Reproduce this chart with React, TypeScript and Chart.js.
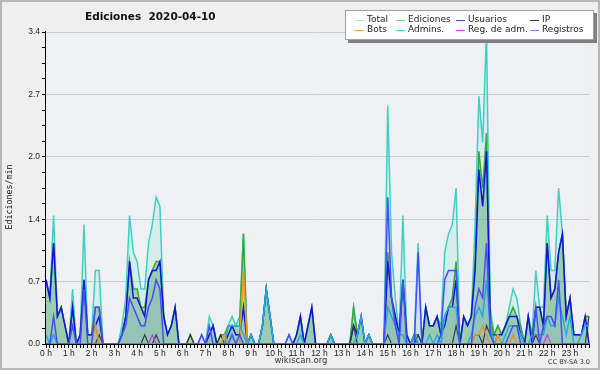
import React, { useEffect, useRef } from "react";
import { Chart, registerables } from "chart.js";

Chart.register(...registerables);

// ---------- labels ----------
const hourLabels = [
  "0 h", "1 h", "2 h", "3 h", "4 h", "5 h", "6 h", "7 h", "8 h", "9 h", "10 h", "11 h",
  "12 h", "13 h", "14 h", "15 h", "16 h", "17 h", "18 h", "19 h", "20 h", "21 h", "22 h", "23 h",
];
const yTickLabels = ["0.0", "0.7", "1.4", "2.0", "2.7", "3.4"];
const yMax = 3.4;
const slotLabels = Array.from(
  { length: 144 },
  (_, i) => `${Math.floor(i / 6)}:${String((i % 6) * 10).padStart(2, "0")}`
);
const seriesNames = ["Total", "Ediciones", "Usuarios", "IP", "Bots", "Admins.", "Reg. de adm.", "Registros"];

// ---------- data (edits / min, 10-minute slots) ----------
const total = [
  0.7, 0.5, 1.4, 0.3, 0.4, 0.2, /* 1h */ 0, 0.6, 0, 0.1, 1.3, 0.1, /* 2h */ 0.1, 0.8, 0.8, 0, 0, 0,
  /* 3h */ 0, 0, 0.2, 0.5, 1.4, 1.0, /* 4h */ 0.9, 0.6, 0.6, 1.1, 1.3, 1.6, /* 5h */ 1.5, 0.3, 0.1, 0.2, 0.4, 0,
  /* 6h */ 0, 0, 0.1, 0, 0, 0.1, /* 7h */ 0, 0.3, 0.2, 0, 0.1, 0.1, /* 8h */ 0.2, 0.3, 0.2, 0.3, 1.2, 0,
  /* 9h */ 0.1, 0, 0, 0.2, 0.6, 0.3, /* 10h */ 0, 0, 0, 0, 0.1, 0, /* 11h */ 0.1, 0.3, 0, 0.2, 0.4, 0,
  /* 12h */ 0, 0, 0, 0.1, 0, 0, /* 13h */ 0, 0, 0, 0.4, 0.1, 0.3, /* 14h */ 0, 0.1, 0, 0, 0, 0,
  /* 15h */ 2.6, 1.0, 0.5, 0.1, 1.4, 0.1, /* 16h */ 0, 0.1, 1.1, 0, 0.4, 0.2, /* 17h */ 0.2, 0.3, 0.2, 1.0, 1.2, 1.3,
  /* 18h */ 1.7, 0, 0.3, 0.2, 0.3, 1.3, /* 19h */ 2.7, 2.2, 3.4, 0.4, 0.1, 0.2, /* 20h */ 0.1, 0.2, 0.4, 0.6, 0.5, 0.2,
  /* 21h */ 0, 0.3, 0.1, 0.8, 0.4, 0.4, /* 22h */ 1.4, 0.8, 0.8, 1.7, 1.2, 0.3, /* 23h */ 0.5, 0.1, 0.1, 0.1, 0.3, 0.3,
];
const edits = [
  0.7, 0.5, 1.1, 0.3, 0.4, 0.2, 0, 0.4, 0, 0.1, 0.7, 0.1, 0.1, 0.4, 0.4, 0, 0, 0,
  0, 0, 0.1, 0.3, 0.9, 0.6, 0.6, 0.4, 0.4, 0.7, 0.8, 0.9, 0.9, 0.3, 0.1, 0.2, 0.4, 0,
  0, 0, 0.1, 0, 0, 0, 0, 0.1, 0.2, 0, 0.1, 0.1, 0.2, 0.2, 0.2, 0.2, 1.2, 0,
  0.1, 0, 0, 0.2, 0.6, 0.3, 0, 0, 0, 0, 0, 0, 0.1, 0.3, 0, 0.2, 0.4, 0,
  0, 0, 0, 0.1, 0, 0, 0, 0, 0, 0.4, 0.1, 0.3, 0, 0.1, 0, 0, 0, 0,
  1.0, 0.5, 0.3, 0.1, 0.7, 0.1, 0, 0.1, 0.1, 0, 0.4, 0.2, 0.2, 0.3, 0.1, 0.3, 0.4, 0.5,
  0.9, 0, 0.3, 0.2, 0.3, 0.9, 2.1, 1.7, 2.3, 0.3, 0.1, 0.2, 0.1, 0.2, 0.3, 0.4, 0.3, 0.2,
  0, 0.3, 0.1, 0.4, 0.4, 0.2, 1.1, 0.5, 0.6, 1.0, 1.2, 0.3, 0.5, 0.1, 0.1, 0.1, 0.3, 0.3,
];
const users = [
  0.7, 0.5, 1.1, 0.3, 0.4, 0.2, 0, 0.4, 0, 0.1, 0.7, 0.1, 0.1, 0.2, 0.3, 0, 0, 0,
  0, 0, 0.1, 0.3, 0.9, 0.5, 0.5, 0.4, 0.3, 0.7, 0.8, 0.8, 0.9, 0.3, 0.1, 0.2, 0.4, 0,
  0, 0, 0, 0, 0, 0, 0, 0.1, 0.2, 0, 0, 0, 0.1, 0.2, 0.1, 0.1, 0.4, 0,
  0.1, 0, 0, 0.2, 0.6, 0.3, 0, 0, 0, 0, 0, 0, 0.1, 0.3, 0, 0.2, 0.4, 0,
  0, 0, 0, 0.1, 0, 0, 0, 0, 0, 0.2, 0.1, 0.3, 0, 0.1, 0, 0, 0, 0,
  0.9, 0.5, 0.3, 0.1, 0.7, 0.1, 0, 0.1, 0, 0, 0.4, 0.2, 0.2, 0.3, 0.1, 0.2, 0.4, 0.4,
  0.7, 0, 0.3, 0.2, 0.3, 0.8, 1.9, 1.5, 2.1, 0.2, 0, 0.1, 0.1, 0.2, 0.3, 0.3, 0.3, 0.1,
  0, 0.3, 0, 0.4, 0.4, 0.2, 1.1, 0.5, 0.6, 1.0, 1.2, 0.3, 0.5, 0.1, 0.1, 0.1, 0.3, 0,
];
const ip = [
  0, 0, 0, 0, 0, 0, 0, 0, 0, 0, 0, 0, 0, 0, 0.1, 0, 0, 0,
  0, 0, 0, 0, 0, 0, 0, 0, 0.1, 0, 0, 0.1, 0, 0, 0, 0, 0, 0,
  0, 0, 0.1, 0, 0, 0, 0, 0, 0, 0, 0.1, 0, 0, 0, 0, 0, 0, 0,
  0, 0, 0, 0, 0, 0, 0, 0, 0, 0, 0, 0, 0, 0, 0, 0, 0, 0,
  0, 0, 0, 0, 0, 0, 0, 0, 0, 0.2, 0, 0, 0, 0, 0, 0, 0, 0,
  0.1, 0, 0, 0, 0, 0, 0, 0, 0.1, 0, 0, 0, 0, 0, 0, 0, 0, 0,
  0.2, 0, 0, 0, 0, 0.1, 0.1, 0, 0.2, 0.1, 0.1, 0.1, 0, 0, 0, 0, 0, 0,
  0, 0, 0, 0.1, 0, 0, 0, 0, 0, 0, 0, 0, 0, 0, 0, 0, 0, 0.3,
];
const bots = [
  0, 0, 0, 0, 0, 0, 0, 0, 0, 0, 0, 0, 0, 0.2, 0, 0, 0, 0,
  0, 0, 0, 0, 0, 0, 0, 0, 0, 0, 0, 0, 0, 0, 0, 0, 0, 0,
  0, 0, 0, 0, 0, 0, 0, 0, 0, 0, 0, 0.1, 0, 0, 0, 0, 0.8, 0,
  0, 0, 0, 0, 0, 0, 0, 0, 0, 0, 0, 0, 0, 0, 0, 0, 0, 0,
  0, 0, 0, 0, 0, 0, 0, 0, 0, 0, 0, 0, 0, 0, 0, 0, 0, 0,
  0, 0, 0, 0, 0, 0, 0, 0, 0, 0, 0, 0, 0, 0, 0, 0, 0, 0,
  0, 0, 0, 0, 0, 0.1, 0.1, 0.2, 0.1, 0, 0, 0.1, 0, 0, 0, 0.1, 0, 0,
  0, 0, 0, 0, 0, 0, 0, 0, 0, 0, 0, 0, 0, 0, 0, 0, 0, 0,
];
const admins = [
  0.1, 0, 0.1, 0, 0, 0, 0, 0, 0, 0, 0, 0, 0, 0, 0, 0, 0, 0,
  0, 0, 0, 0, 0, 0, 0, 0, 0, 0, 0, 0, 0, 0, 0, 0, 0, 0,
  0, 0, 0, 0, 0, 0, 0, 0, 0, 0, 0, 0, 0.2, 0.2, 0.2, 0.2, 0.1, 0,
  0.1, 0, 0, 0.2, 0.6, 0.3, 0, 0, 0, 0, 0, 0, 0, 0.1, 0, 0, 0, 0,
  0, 0, 0, 0.1, 0, 0, 0, 0, 0, 0, 0.1, 0.3, 0, 0.1, 0, 0, 0, 0,
  0.4, 0.3, 0.2, 0.1, 0.1, 0, 0, 0.1, 0, 0, 0, 0.1, 0, 0.1, 0, 0.3, 0.4, 0.4,
  0.4, 0, 0, 0, 0.1, 0.3, 0.4, 0.3, 0.7, 0.2, 0, 0, 0, 0.1, 0.2, 0.2, 0.2, 0.1,
  0, 0, 0.1, 0.1, 0.1, 0.1, 0.3, 0.2, 0.2, 0.5, 0.3, 0.1, 0.3, 0, 0, 0.1, 0.2, 0.2,
];
const regAdm = [
  0, 0, 0, 0, 0, 0, 0, 0, 0, 0, 0, 0, 0, 0, 0, 0, 0, 0,
  0, 0, 0, 0, 0, 0, 0, 0, 0, 0, 0.1, 0, 0, 0, 0, 0, 0, 0,
  0, 0, 0, 0, 0, 0, 0, 0, 0, 0, 0, 0, 0, 0, 0, 0, 0, 0,
  0, 0, 0, 0, 0, 0, 0, 0, 0, 0, 0, 0, 0, 0, 0, 0, 0, 0,
  0, 0, 0, 0, 0, 0, 0, 0, 0, 0, 0, 0, 0, 0, 0, 0, 0, 0,
  0, 0, 0, 0, 0, 0, 0, 0, 0, 0, 0, 0, 0, 0, 0, 0, 0, 0,
  0, 0, 0, 0, 0, 0, 0, 0, 0, 0, 0, 0, 0, 0, 0, 0, 0, 0,
  0, 0, 0, 0, 0, 0, 0.1, 0, 0, 0, 0, 0, 0, 0, 0, 0, 0, 0,
];
const registros = [
  0, 0, 0.3, 0, 0, 0, 0, 0.2, 0, 0, 0.6, 0, 0, 0.4, 0.4, 0, 0, 0,
  0, 0, 0.1, 0.2, 0.5, 0.4, 0.3, 0.2, 0.2, 0.4, 0.5, 0.7, 0.6, 0, 0, 0, 0, 0,
  0, 0, 0, 0, 0, 0.1, 0, 0.2, 0, 0, 0, 0, 0, 0.1, 0, 0.1, 0, 0,
  0, 0, 0, 0, 0, 0, 0, 0, 0, 0, 0.1, 0, 0, 0, 0, 0, 0, 0,
  0, 0, 0, 0, 0, 0, 0, 0, 0, 0, 0, 0, 0, 0, 0, 0, 0, 0,
  1.6, 0.5, 0.2, 0, 0.7, 0, 0, 0, 1.0, 0, 0, 0, 0, 0, 0.1, 0.7, 0.8, 0.8,
  0.8, 0, 0, 0, 0, 0.4, 0.6, 0.5, 1.1, 0.1, 0, 0, 0, 0, 0.1, 0.2, 0.2, 0,
  0, 0, 0, 0.4, 0, 0.2, 0.3, 0.3, 0.2, 0.7, 0, 0, 0, 0, 0, 0, 0, 0,
];

// ---------- styles ----------
const lineColors = ["#3dd0c4", "#38a838", "#1212e0", "#3a3a3a", "#f29a1c", "#22aee0", "#d23cdc", "#4a4aff"];
const fillColors = [
  "rgba(80,220,195,0.15)",
  "rgba(60,170,60,0.34)",
  "rgba(0,0,170,0.04)",
  null,
  null,
  null,
  null,
  "rgba(70,70,255,0.06)",
];
const legendColors = ["#a4e6de", "#80cf80", "#4646e6", "#333333", "#f0a040", "#40cfe6", "#e040e6", "#8080ff"];
const widths = [1.5, 1.5, 1.5, 1.2, 1.5, 1.5, 1.2, 1.5];

const FONT = '"DejaVu Sans", "Liberation Sans", sans-serif';

const decor = {
  id: "decor",
  beforeDraw(chart: any) {
    const { ctx, chartArea: a, width, height } = chart;
    ctx.save();
    ctx.fillStyle = "#efefef";
    ctx.fillRect(0, 0, width, height);
    ctx.fillStyle = "#eef0f3";
    ctx.fillRect(a.left, a.top, a.right - a.left, a.bottom - a.top);
    ctx.restore();
  },
  afterDatasetsDraw(chart: any) {
    const { ctx, chartArea: a } = chart;
    ctx.save();
    ctx.strokeStyle = "#000";
    ctx.lineWidth = 1;
    ctx.beginPath();
    ctx.moveTo(a.left - 0.5, a.top - 1);
    ctx.lineTo(a.left - 0.5, a.bottom + 0.5);
    ctx.lineTo(a.right + 0.5, a.bottom + 0.5);
    ctx.stroke();
    ctx.restore();
  },
  afterDraw(chart: any) {
    const { ctx, width, height } = chart;
    ctx.save();
    // outer frame
    ctx.strokeStyle = "#b8b8b8";
    ctx.lineWidth = 2;
    ctx.strokeRect(1, 1, width - 2, height - 2);

    // title
    ctx.fillStyle = "#111";
    ctx.font = `bold 10.5px ${FONT}`;
    ctx.textAlign = "left";
    ctx.textBaseline = "middle";
    ctx.fillText("Ediciones  2020-04-10", 85, 17);

    // y title
    ctx.save();
    ctx.translate(10, 197);
    ctx.rotate(-Math.PI / 2);
    ctx.textAlign = "center";
    ctx.textBaseline = "middle";
    ctx.font = '8.3px "DejaVu Sans Mono", monospace';
    ctx.fillStyle = "#111";
    ctx.fillText("Ediciones/min", 0, 0);
    ctx.restore();

    // footer
    ctx.fillStyle = "#333";
    ctx.font = `8.5px ${FONT}`;
    ctx.textAlign = "center";
    ctx.fillText("wikiscan.org", 301, 361);
    ctx.font = `6.5px ${FONT}`;
    ctx.textAlign = "right";
    ctx.fillText("CC BY-SA 3.0", 590, 362);

    // legend
    const bx = 345, by = 10, bw = 249, bh = 30;
    ctx.fillStyle = "#808080";
    ctx.fillRect(bx + 3, by + 3, bw, bh);
    ctx.fillStyle = "#ffffff";
    ctx.fillRect(bx, by, bw, bh);
    ctx.strokeStyle = "#a0a0a0";
    ctx.lineWidth = 1;
    ctx.strokeRect(bx + 0.5, by + 0.5, bw - 1, bh - 1);
    const colX = [355, 396, 456, 530];
    const rowY = [19.5, 29.5];
    ctx.font = `9px ${FONT}`;
    ctx.textAlign = "left";
    ctx.textBaseline = "middle";
    seriesNames.forEach((name, k) => {
      const cx = colX[k % 4];
      const cy = rowY[Math.floor(k / 4)];
      ctx.strokeStyle = legendColors[k];
      ctx.lineWidth = 1;
      ctx.beginPath();
      ctx.moveTo(cx, Math.round(cy) + 0.5);
      ctx.lineTo(cx + 9, Math.round(cy) + 0.5);
      ctx.stroke();
      ctx.fillStyle = "#222";
      ctx.fillText(name, cx + 12, cy);
    });
    ctx.restore();
  },
};

const seriesData = [total, edits, users, ip, bots, admins, regAdm, registros];

export default function App() {
  const ref = useRef<HTMLCanvasElement | null>(null);

  useEffect(() => {
    document.body.style.margin = "0";
    const canvas = ref.current;
    if (!canvas) return;
    const chart = new Chart(canvas, {
      type: "line",
      data: {
        labels: slotLabels,
        datasets: seriesData.map((d, k) => ({
          label: seriesNames[k],
          data: d,
          borderColor: lineColors[k],
          borderWidth: widths[k],
          backgroundColor: fillColors[k] || "transparent",
          fill: fillColors[k] ? "origin" : false,
          pointRadius: 0,
          tension: 0,
          order: 8 - k,
          clip: { left: 2, top: 3, right: 2, bottom: 0 },
        })),
      },
      options: {
        responsive: false,
        animation: false,
        devicePixelRatio: 1,
        layout: { padding: { top: 32, right: 11, left: 0, bottom: 0 } },
        plugins: { legend: { display: false }, title: { display: false }, tooltip: { enabled: false } },
        scales: {
          x: {
            type: "category",
            offset: false,
            afterFit: (s: any) => {
              s.height = 26;
            },
            grid: {
              drawOnChartArea: false,
              color: "#000",
              tickColor: "#000",
              tickLength: 4,
              offset: false,
            },
            border: { display: false },
            ticks: {
              autoSkip: false,
              maxRotation: 0,
              minRotation: 0,
              padding: 1,
              color: "#222",
              font: { family: "Liberation Sans", size: 8.5 },
              callback: (_v: any, i: number) => (i % 6 === 0 ? hourLabels[i / 6] : ""),
            },
          },
          y: {
            type: "linear",
            min: 0,
            max: yMax,
            afterFit: (s: any) => {
              s.width = 46;
            },
            afterBuildTicks: (s: any) => {
              s.ticks = Array.from({ length: 21 }, (_, k) => ({ value: (yMax * k) / 20 }));
            },
            grid: {
              color: (c: any) => (c.index % 4 === 0 && c.index > 0 ? "#cccccc" : "rgba(0,0,0,0)"),
              tickColor: "#000",
              tickLength: 4,
            },
            border: { display: false },
            ticks: {
              autoSkip: false,
              padding: 2,
              color: "#222",
              font: { family: "Liberation Sans", size: 8.5 },
              callback: (_v: any, i: number) => (i % 4 === 0 ? yTickLabels[i / 4] : ""),
            },
          },
        },
      },
      plugins: [decor],
    });
    return () => chart.destroy();
  }, []);

  return (
    <div style={{ width: 600, height: 370 }}>
      <canvas ref={ref} width={600} height={370} />
    </div>
  );
}
